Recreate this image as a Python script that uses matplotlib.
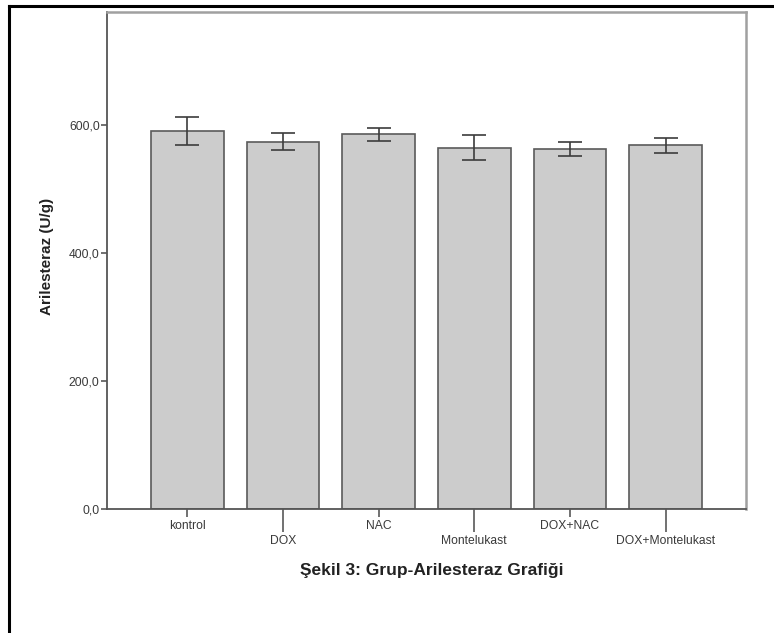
import numpy as np
import matplotlib
matplotlib.use("Agg")
import matplotlib.pyplot as plt
from matplotlib.lines import Line2D

plt.rcParams["font.family"] = ["Liberation Sans", "DejaVu Sans"]

groups = ["kontrol", "DOX", "NAC", "Montelukast", "DOX+NAC", "DOX+Montelukast"]
means = [590.6, 574.0, 585.2, 564.6, 563.2, 568.7]
errors = [21.6, 13.5, 9.6, 19.3, 11.0, 11.7]
y_ticks = [0, 200, 400, 600]
y_labels = ["0,0", "200,0", "400,0", "600,0"]

W, H = 774, 633
fig = plt.figure(figsize=(W / 100, H / 100), dpi=100)
ax = fig.add_axes([107 / W, 1 - 509 / H, (746 - 107) / W, (509 - 12) / H])

x = np.arange(len(groups))
ax.bar(x, means, width=0.76, color="#cccccc", edgecolor="#5a5a5a",
       linewidth=1.2, zorder=2)
ax.errorbar(x, means, yerr=errors, fmt="none", ecolor="#3c3c3c",
            elinewidth=1.2, capsize=8.6, capthick=1.2, zorder=3)

ax.set_xlim(-0.842, 5.842)
ax.set_ylim(0, 776.6)

# staggered category labels: short ticks on top row, long ticks on bottom row
ax.set_xticks(x[0::2])
ax.set_xticklabels(groups[0::2])
ax.set_xticks(x[1::2], minor=True)
ax.set_xticklabels(groups[1::2], minor=True)
ax.tick_params(axis="x", which="major", length=6, width=1.1, pad=2,
               color="#4a4a4a", labelsize=8.7, labelcolor="#3a3a3a")
ax.tick_params(axis="x", which="minor", length=16.5, width=1.1, pad=2,
               color="#4a4a4a", labelsize=8.7, labelcolor="#3a3a3a")

ax.set_yticks(y_ticks)
ax.set_yticklabels(y_labels)
ax.tick_params(axis="y", length=4.3, width=1.1, pad=1, color="#4a4a4a",
               labelsize=8.7, labelcolor="#3a3a3a")

ax.spines["left"].set_color("#555555")
ax.spines["bottom"].set_color("#555555")
ax.spines["left"].set_linewidth(1.3)
ax.spines["bottom"].set_linewidth(1.3)
ax.spines["top"].set_color("#a0a0a0")
ax.spines["right"].set_color("#a0a0a0")
ax.spines["top"].set_linewidth(1.8)
ax.spines["right"].set_linewidth(1.8)

fig.text(47 / W, 1 - 256 / H, "Arilesteraz (U/g)", rotation=90,
         ha="center", va="center", fontsize=11, fontweight="bold",
         color="#222222")
fig.text(432 / W, 1 - 570 / H, "Şekil 3: Grup-Arilesteraz Grafiği",
         ha="center", va="center", fontsize=12.5, fontweight="bold",
         color="#222222")

# page border
fig.add_artist(Line2D([9 / W, 9 / W], [0, 1 - 6 / H],
                      transform=fig.transFigure, color="black", lw=2.2))
fig.add_artist(Line2D([9 / W, 1], [1 - 6 / H, 1 - 6 / H],
                      transform=fig.transFigure, color="black", lw=2.2))

fig.savefig("out.png", dpi=100)
